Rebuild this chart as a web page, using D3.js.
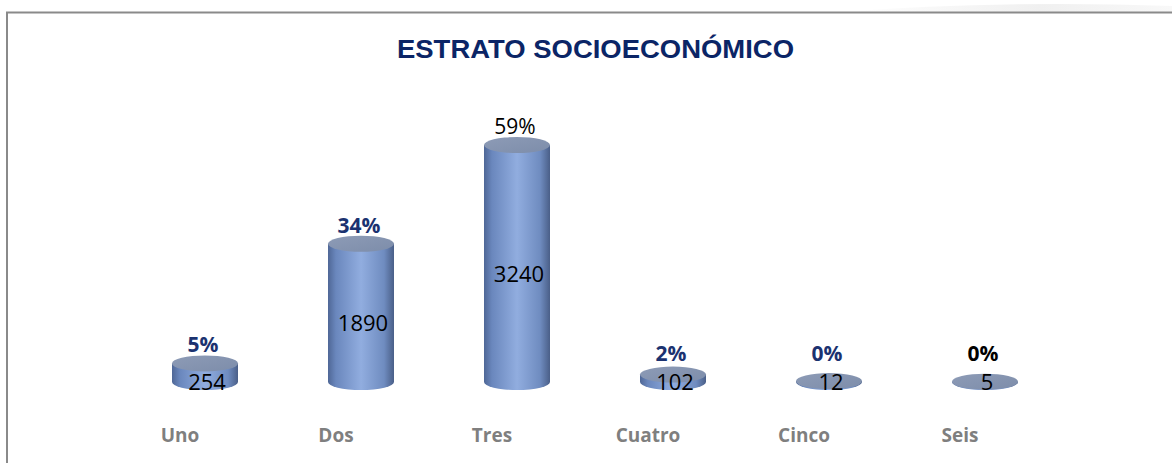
<!DOCTYPE html>
<html><head><meta charset="utf-8">
<script src="https://cdn.jsdelivr.net/npm/d3@7"></script>
<style>html,body{margin:0;padding:0;background:#fff;overflow:hidden}</style>
</head><body>
<svg id="c" width="1172" height="463"></svg>
<script>
const categories = ["Uno","Dos","Tres","Cuatro","Cinco","Seis"];
const values = [254, 1890, 3240, 102, 12, 5];
const pctLabels = ["5%","34%","59%","2%","0%","0%"];
const title = "ESTRATO SOCIOECONÓMICO";

const svg = d3.select("#c");
const W = 1172, H = 463;

// faint swoosh top-right
const defs = svg.append("defs");
const sw = defs.append("linearGradient").attr("id","sw").attr("x1","0").attr("x2","1");
sw.append("stop").attr("offset","0").attr("stop-color","#fff");
sw.append("stop").attr("offset","0.6").attr("stop-color","#f0f0f0");
sw.append("stop").attr("offset","1").attr("stop-color","#f8f8f8");
svg.append("path").attr("d","M840,12 Q1000,0 1172,6 L1172,12 Z").attr("fill","url(#sw)");

// border
svg.append("rect").attr("x",7).attr("y",12.5).attr("width",1300).attr("height",600)
  .attr("fill","none").attr("stroke","#8a8a8a").attr("stroke-width",2);

// title
svg.append("text").attr("x",397).attr("y",58)
  .attr("font-family","Liberation Sans, Arial, sans-serif").attr("font-weight","bold")
  .attr("font-size",25.5).attr("fill","#0b2566")
  .attr("textLength",397).attr("lengthAdjust","spacingAndGlyphs").text(title);

const x = d3.scaleBand().domain(categories).range([127,1063]);
const y = d3.scaleLinear().domain([0,3240]).range([382,145]);

const g1 = defs.append("linearGradient").attr("id","body").attr("x1","0").attr("x2","1");
[["0","#4f6796"],["0.12","#6a87bd"],["0.5","#91addf"],["0.85","#6f8cc0"],["1","#4a5f88"]]
  .forEach(s=>g1.append("stop").attr("offset",s[0]).attr("stop-color",s[1]));
const g2 = defs.append("linearGradient").attr("id","top").attr("x1","0").attr("x2","1").attr("y1","0").attr("y2","1");
[["0","#8d9bb6"],["1","#7d8daa"]].forEach(s=>g2.append("stop").attr("offset",s[0]).attr("stop-color",s[1]));

const rx = 33, ry = 8;
const data = categories.map((c,i)=>({c, v:values[i], p:pctLabels[i]}));
const bars = svg.append("g").selectAll("g").data(data).join("g");

bars.each(function(d){
  const g = d3.select(this);
  const cx = x(d.c) + x.bandwidth()/2;
  const yb = y(0), yt = y(d.v);
  g.append("path")
    .attr("d", `M${cx-rx},${yt} L${cx-rx},${yb} A${rx},${ry} 0 0 0 ${cx+rx},${yb} L${cx+rx},${yt} Z`)
    .attr("fill","url(#body)");
  g.append("ellipse").attr("cx",cx).attr("cy",yt).attr("rx",rx).attr("ry",ry)
    .attr("fill","url(#top)");
});

// value labels
bars.append("text")
  .attr("x", d => x(d.c) + x.bandwidth()/2 + 2)
  .attr("y", d => Math.min((y(d.v)+y(0))/2 + 18, y(0) + 8))
  .attr("text-anchor","middle")
  .attr("font-family","Open Sans, sans-serif").attr("font-size",22).attr("fill","#000")
  .text(d => d.v);

// percent labels
const pctStyle = {
  Tres: {weight:"normal", fill:"#000"},
  Seis: {weight:"bold", fill:"#000"}
};
bars.append("text")
  .attr("x", d => x(d.c) + x.bandwidth()/2 - 2)
  .attr("y", d => Math.min(y(d.v) - 11, y(0) - 21))
  .attr("text-anchor","middle")
  .attr("font-family","Open Sans, sans-serif").attr("font-size",21)
  .attr("font-weight", d => (pctStyle[d.c]||{}).weight || "bold")
  .attr("fill", d => (pctStyle[d.c]||{}).fill || "#1b3270")
  .text(d => d.p);

// category axis labels
svg.append("g").selectAll("text").data(categories).join("text")
  .attr("x", c => x(c) + x.bandwidth()/2 - 25)
  .attr("y", 442)
  .attr("text-anchor","middle")
  .attr("font-family","Open Sans, sans-serif").attr("font-weight","bold")
  .attr("font-size",19).attr("fill","#7f7f7f")
  .text(c => c);
</script>
</body></html>
